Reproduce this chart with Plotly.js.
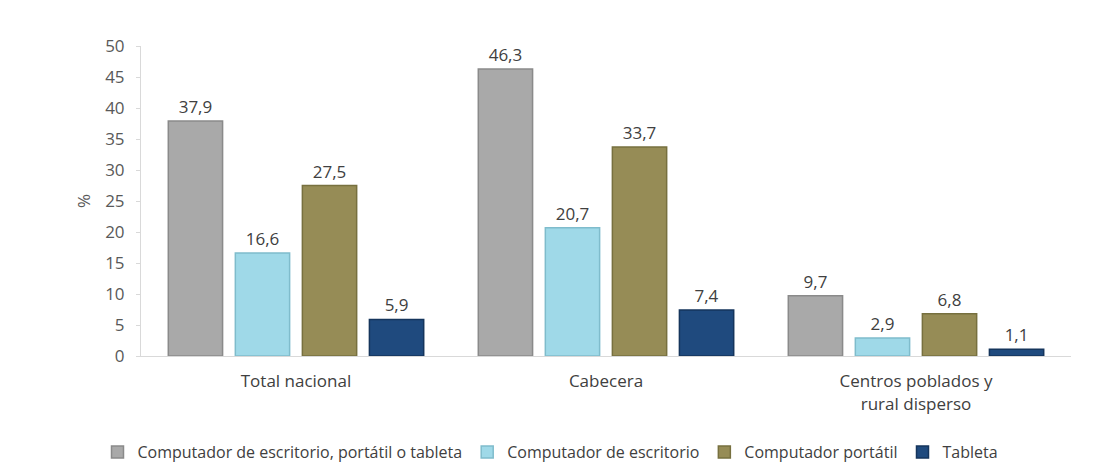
<!DOCTYPE html>
<html>
<head>
<meta charset="utf-8">
<script src="https://cdn.plot.ly/plotly-3.0.1.min.js"></script>
<style>html,body{margin:0;padding:0;background:#fff;}#chart{width:1101px;height:473px;}</style>
</head>
<body>
<div id="chart"></div>
<script>
const categories = ["Total nacional", "Cabecera", "Centros poblados y<br>rural disperso"];
const seriesNames = ["Computador de escritorio, portátil o tableta", "Computador de escritorio", "Computador portátil", "Tableta"];
const valsTotal = [37.9, 46.3, 9.7];
const valsEscritorio = [16.6, 20.7, 2.9];
const valsPortatil = [27.5, 33.7, 6.8];
const valsTableta = [5.9, 7.4, 1.1];
const colors = ["#a9a9a9", "#9fd9e8", "#968c56", "#1f4a7e"];
const lineColors = ["#8a8a8a", "#7fbccc", "#77703f", "#15355c"];

const seriesVals = [valsTotal, valsEscritorio, valsPortatil, valsTableta];
const fmt = v => v.toFixed(1).replace('.', ',');

const traces = seriesVals.map((vals, i) => ({
  type: 'bar',
  name: seriesNames[i],
  x: categories,
  y: vals,
  text: vals.map(fmt),
  textposition: 'outside',
  cliponaxis: false,
  textfont: {family: 'Open Sans, sans-serif', size: 17, color: '#404040'},
  marker: {color: colors[i], line: {color: lineColors[i], width: 1.5}},
  hoverinfo: 'skip'
}));

const layout = {
  width: 1101, height: 473,
  margin: {l: 141, r: 30, t: 46, b: 117, autoexpand: false},
  paper_bgcolor: '#fff', plot_bgcolor: '#fff',
  barmode: 'group',
  bargap: 0.135,
  bargroupgap: 0.19,
  font: {family: 'Open Sans, sans-serif', color: '#595959'},
  xaxis: {
    showline: true, linecolor: '#d9d9d9', linewidth: 1,
    ticks: '', tickfont: {size: 17, color: '#404040'},
    ticklabelstandoff: 10,
    showgrid: false, zeroline: false, automargin: false
  },
  yaxis: {
    range: [0, 50], dtick: 5, tick0: 0,
    showline: true, linecolor: '#d9d9d9', linewidth: 1,
    ticks: 'outside', ticklen: 4, tickcolor: '#d9d9d9',
    ticklabelstandoff: 8,
    showgrid: false, zeroline: false, automargin: false,
    tickfont: {size: 17, color: '#595959'},
    title: {text: '%', font: {size: 17, color: '#595959'}, standoff: 10}
  },
  legend: {
    orientation: 'h', xref: 'container', x: 0.5, xanchor: 'center',
    y: -0.31, yanchor: 'middle',
    font: {size: 16, color: '#404040'},
    itemwidth: 30, tracegroupgap: 0
  },
  showlegend: true
};

Plotly.newPlot('chart', traces, layout, {displayModeBar: false, staticPlot: true});
</script>
</body>
</html>
